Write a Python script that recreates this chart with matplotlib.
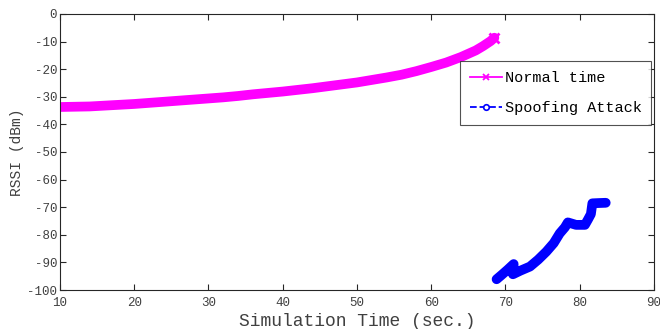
import matplotlib
matplotlib.use("Agg")
import matplotlib.pyplot as plt
from matplotlib.lines import Line2D

normal_t = [10, 12, 14, 16, 18, 20, 22, 24, 26, 28, 30, 32, 34, 36, 38, 40, 42, 44, 46,
            48, 50, 52, 54, 56, 58, 60, 62, 64, 66, 67, 68, 68.5]
normal_rssi = [-33.7, -33.6, -33.5, -33.2, -32.9, -32.6, -32.2, -31.8, -31.4, -31.0,
               -30.6, -30.2, -29.7, -29.1, -28.6, -28.1, -27.5, -26.9, -26.2, -25.5,
               -24.8, -23.9, -23.0, -22.0, -20.7, -19.2, -17.6, -15.6, -13.2, -11.6,
               -9.8, -8.6]

spoof_t = [68.8, 69.5, 70.3, 71.1, 71.0, 72.0, 73.3, 74.4, 75.5, 76.5, 77.3, 78.0, 78.4,
           79.5, 80.7, 81.1, 81.5, 81.7, 82.5, 83.5]
spoof_rssi = [-96.1, -94.5, -92.6, -90.6, -94.3, -93.0, -91.5, -89.0, -86.1, -83.0,
              -79.5, -77.3, -75.5, -76.4, -76.4, -74.5, -72.5, -68.6, -68.5, -68.4]

xticks = [10, 20, 30, 40, 50, 60, 70, 80, 90]
yticks = [0, -10, -20, -30, -40, -50, -60, -70, -80, -90, -100]

plt.rcParams['font.family'] = ['Liberation Mono', 'DejaVu Sans Mono']
plt.rcParams['axes.unicode_minus'] = False

fig = plt.figure(figsize=(6.6, 3.29), dpi=100)
ax = fig.add_axes([0.0909, 0.1185, 0.9, 0.839])

ax.plot(normal_t, normal_rssi, color='#ff00ff', linewidth=7, solid_capstyle='round')
ax.plot(normal_t[-1:], normal_rssi[-1:], color='#ff00ff', linestyle='none', marker='x',
        markersize=7, markeredgewidth=2)
ax.plot(spoof_t, spoof_rssi, color='#0000ff', linewidth=7, solid_capstyle='round',
        solid_joinstyle='round')

ax.set_xlim(10, 90)
ax.set_ylim(-100, 0)
ax.set_xticks(xticks)
ax.set_yticks(yticks)
ax.tick_params(direction='in', length=4, width=0.8, top=True, right=True,
               labelsize=9, colors='#262626', labelcolor='#404040')
ax.tick_params(axis='x', pad=5)
ax.tick_params(axis='y', pad=2)
for s in ax.spines.values():
    s.set_color('#262626')
    s.set_linewidth(0.8)

ax.set_xlabel('Simulation Time (sec.)', fontsize=13, color='#404040', labelpad=3)
ax.set_ylabel('RSSI (dBm)', fontsize=10.5, color='#404040', labelpad=2)

handles = [
    Line2D([], [], color='#ff00ff', linestyle='-', marker='x', markersize=5,
           markeredgewidth=1.3, linewidth=1.3),
    Line2D([], [], color='#0000ff', linestyle='--', marker='o', markersize=4,
           markerfacecolor='white', markeredgewidth=1.2, linewidth=1.3),
]
leg = ax.legend(handles, ['Normal time', 'Spoofing Attack'], loc='upper left',
                bbox_to_anchor=(0.674, 0.828), fontsize=11,
                frameon=True, fancybox=False, handlelength=2.1, handletextpad=0.15,
                borderpad=0.65, labelspacing=1.05, borderaxespad=0)
leg.get_frame().set_edgecolor('#262626')
leg.get_frame().set_linewidth(0.8)

fig.savefig('out.png', dpi=100)
